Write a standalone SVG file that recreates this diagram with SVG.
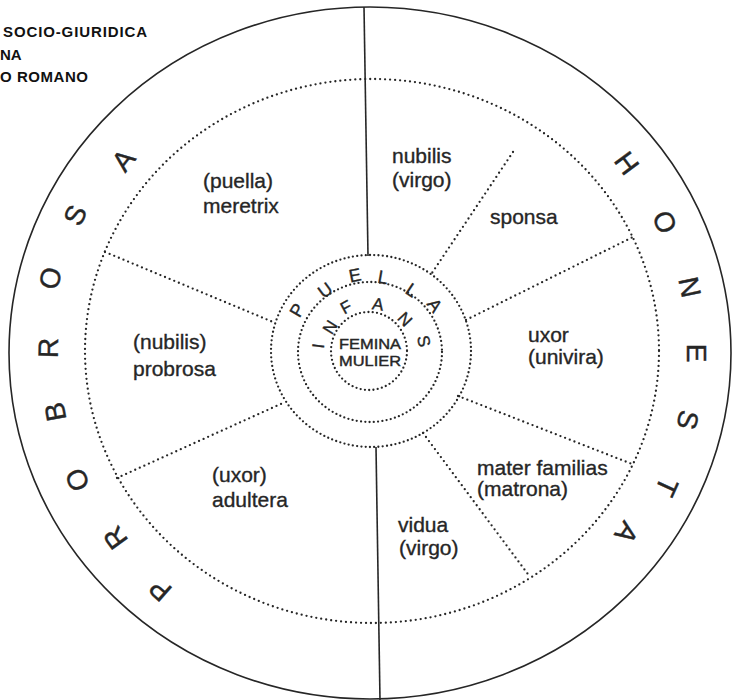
<svg xmlns="http://www.w3.org/2000/svg" width="732" height="700" viewBox="0 0 732 700">
<style>
.bg{fill:#ffffff}
.solid{fill:none;stroke:#262626;stroke-width:1.6}
.dot{fill:none;stroke:#262626;stroke-width:2.3;stroke-dasharray:0 5;stroke-linecap:round}
.dot2{fill:none;stroke:#262626;stroke-width:2.3;stroke-dasharray:0 4.3;stroke-linecap:round}
.lbl{font-family:"Liberation Sans",Arial,Helvetica,sans-serif;font-size:21px;fill:#262626;stroke:#262626;stroke-width:0.35}
.big{font-family:"Liberation Sans",Arial,Helvetica,sans-serif;font-size:28px;fill:#262626;stroke:#262626;stroke-width:0.4;text-anchor:middle}
.ring1{font-family:"Liberation Sans",Arial,Helvetica,sans-serif;font-size:18px;fill:#262626;stroke:#262626;stroke-width:0.35;text-anchor:middle}
.ring2{font-family:"Liberation Sans",Arial,Helvetica,sans-serif;font-size:17px;fill:#262626;stroke:#262626;stroke-width:0.35;text-anchor:middle}
.core{font-family:"Liberation Sans",Arial,Helvetica,sans-serif;font-size:14px;fill:#262626;stroke:#262626;stroke-width:0.4;text-anchor:middle}
.title{font-family:"Liberation Sans",Arial,Helvetica,sans-serif;font-size:15px;font-weight:bold;fill:#111111}
</style>
<rect class="bg" x="0" y="0" width="732" height="700"/>

<g id="title">
<text class="title" x="3" y="37" textLength="144" lengthAdjust="spacing">SOCIO-GIURIDICA</text>
<text class="title" x="0" y="60">NA</text>
<text class="title" x="0" y="82" textLength="88" lengthAdjust="spacing">O ROMANO</text>
</g>

<g id="frame">
<ellipse class="solid" cx="370" cy="353" rx="361" ry="346"/>
<ellipse class="dot" cx="372" cy="351" rx="287" ry="272"/>
</g>

<g id="connectors">
<line class="solid" x1="364" y1="7" x2="368" y2="256"/>
<line class="solid" x1="376" y1="447" x2="380" y2="700"/>
<line class="dot" x1="105" y1="252" x2="273" y2="322"/>
<line class="dot" x1="117" y1="478" x2="283" y2="403"/>
<line class="dot" x1="513" y1="152" x2="432" y2="273"/>
<line class="dot" x1="466" y1="320" x2="633" y2="237"/>
<line class="dot" x1="458" y1="396" x2="632" y2="464"/>
<line class="dot" x1="423" y1="433" x2="530" y2="577"/>
</g>

<g id="center">
<ellipse class="dot2" cx="371" cy="351" rx="100" ry="96"/>
<ellipse class="dot2" cx="370" cy="352" rx="72" ry="70"/>
<ellipse class="dot2" cx="369" cy="351" rx="38" ry="39"/>
<g id="puella">
<text class="ring1" transform="translate(297 310) rotate(-60)" y="6.4">P</text>
<text class="ring1" transform="translate(325 290) rotate(-36)" y="6.4">U</text>
<text class="ring1" transform="translate(355 275) rotate(-11)" y="6.4">E</text>
<text class="ring1" transform="translate(383 277) rotate(10)" y="6.4">L</text>
<text class="ring1" transform="translate(412 290) rotate(34)" y="6.4">L</text>
<text class="ring1" transform="translate(435 305) rotate(54)" y="6.4">A</text>
</g>
<g id="infans">
<text class="ring2" transform="translate(318 346) rotate(-83.4)" y="6">I</text>
<text class="ring2" transform="translate(330 327) rotate(-58)" y="6">N</text>
<text class="ring2" transform="translate(346 307) rotate(-28)" y="6">F</text>
<text class="ring2" transform="translate(378 304) rotate(9.5)" y="6">A</text>
<text class="ring2" transform="translate(405 319) rotate(46.7)" y="6">N</text>
<text class="ring2" transform="translate(424 341) rotate(78.5)" y="6">S</text>
</g>
<g id="femina-mulier">
<text class="core" x="370" y="348.5" textLength="62" lengthAdjust="spacingAndGlyphs">FEMINA</text>
<text class="core" x="370" y="366" textLength="62" lengthAdjust="spacingAndGlyphs">MULIER</text>
</g>
</g>

<g id="probrosa">
<text class="big" transform="translate(160 590) rotate(-138.5)" y="10">P</text>
<text class="big" transform="translate(115 538) rotate(-126)" y="10">R</text>
<text class="big" transform="translate(77 480) rotate(-113.4)" y="10">O</text>
<text class="big" transform="translate(55 412) rotate(-100.6)" y="10">B</text>
<text class="big" transform="translate(48 348) rotate(-89)" y="10">R</text>
<text class="big" transform="translate(50 278) rotate(-76.8)" y="10">O</text>
<text class="big" transform="translate(75 215) rotate(-64.9)" y="10">S</text>
<text class="big" transform="translate(123 160) rotate(-52)" y="10">A</text>
</g>

<g id="honesta">
<text class="big" transform="translate(627 163) rotate(53.5)" y="10">H</text>
<text class="big" transform="translate(665 222) rotate(66.1)" y="10">O</text>
<text class="big" transform="translate(690 287) rotate(78.3)" y="10">N</text>
<text class="big" transform="translate(697 353) rotate(90)" y="10">E</text>
<text class="big" transform="translate(688 420) rotate(101.9)" y="10">S</text>
<text class="big" transform="translate(667 487) rotate(114.3)" y="10">T</text>
<text class="big" transform="translate(627 533) rotate(125)" y="10">A</text>
</g>

<g id="puella-meretrix">
<text class="lbl" x="203" y="187.5">(puella)</text>
<text class="lbl" x="203" y="212.5">meretrix</text>
</g>
<g id="nubilis-virgo">
<text class="lbl" x="392" y="163">nubilis</text>
<text class="lbl" x="392" y="186.5">(virgo)</text>
</g>
<g id="sponsa">
<text class="lbl" x="490" y="224">sponsa</text>
</g>
<g id="uxor-univira">
<text class="lbl" x="528" y="341.5">uxor</text>
<text class="lbl" x="528" y="364">(univira)</text>
</g>
<g id="nubilis-probrosa">
<text class="lbl" x="133" y="348.5">(nubilis)</text>
<text class="lbl" x="133" y="376">probrosa</text>
</g>
<g id="uxor-adultera">
<text class="lbl" x="212" y="481.5">(uxor)</text>
<text class="lbl" x="212" y="506.5">adultera</text>
</g>
<g id="mater-familias">
<text class="lbl" x="477" y="475">mater familias</text>
<text class="lbl" x="477" y="496">(matrona)</text>
</g>
<g id="vidua-virgo">
<text class="lbl" x="398" y="532">vidua</text>
<text class="lbl" x="399" y="554.5">(virgo)</text>
</g>
</svg>
